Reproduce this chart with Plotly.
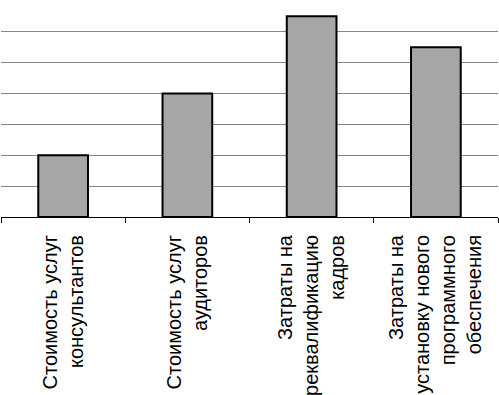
import plotly.graph_objects as go

categories = [
    "Стоимость услуг<br>консультантов",
    "Стоимость услуг<br>аудиторов",
    "Затраты на<br>реквалификацию<br>кадров",
    "Затраты на<br>установку нового<br>программного<br>обеспечения",
]
values = [2, 4, 6.5, 5.5]

fig = go.Figure(
    go.Bar(
        x=categories,
        y=values,
        marker=dict(color="#a6a6a6", line=dict(color="#000000", width=2)),
    )
)
fig.update_layout(
    width=499,
    height=395,
    margin=dict(l=1, r=1, t=0, b=178),
    plot_bgcolor="white",
    paper_bgcolor="white",
    bargap=0.6,
    showlegend=False,
    font=dict(family="Liberation Sans, Arial, sans-serif", size=20, color="#000000"),
)
fig.update_xaxes(
    type="category",
    tickson="boundaries",
    ticks="outside",
    ticklen=5,
    tickcolor="#000000",
    showline=True,
    linecolor="#000000",
    linewidth=1,
    tickangle=-90,
    showgrid=False,
    automargin=False,
    ticklabelstandoff=9,
)
fig.update_yaxes(
    range=[0, 7.03],
    tickvals=[1, 2, 3, 4, 5, 6, 7],
    showticklabels=False,
    showgrid=True,
    gridcolor="#868686",
    gridwidth=1,
    zeroline=False,
    showline=False,
    automargin=False,
)
fig.write_html(
    "out.html",
    config={"displayModeBar": False},
    post_script="document.body.style.margin='0px';document.body.style.overflow='hidden';",
)
